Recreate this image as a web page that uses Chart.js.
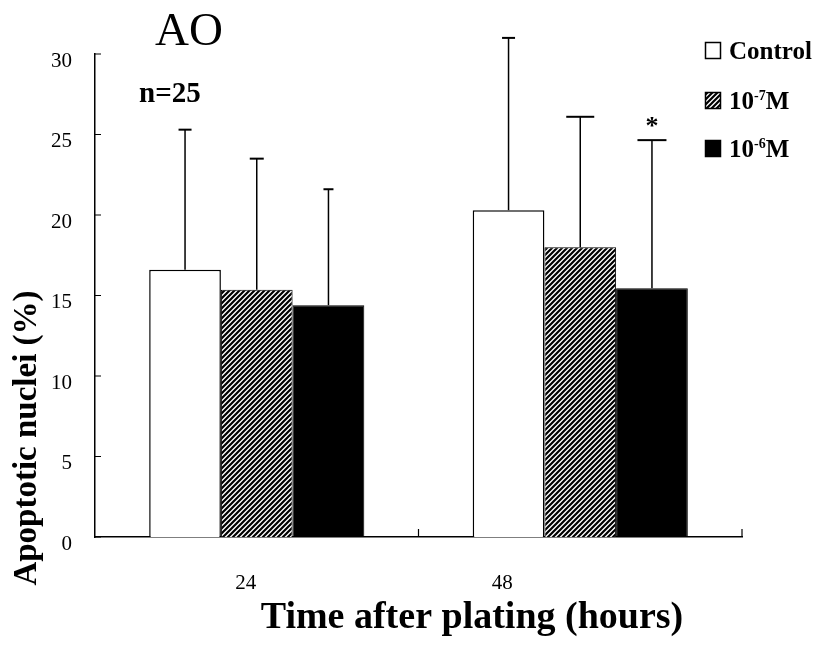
<!DOCTYPE html>
<html>
<head>
<meta charset="utf-8">
<script src="https://cdn.jsdelivr.net/npm/chart.js@4.4.1/dist/chart.umd.min.js"></script>
<style>
  html, body { margin: 0; padding: 0; background: #fff; }
  #chart { display: block; }
</style>
</head>
<body>
<canvas id="chart" width="819" height="645"></canvas>
<script>
// --- DATA ---
const categories = ['24', '48'];
const seriesLabels = ['Control', '10\u207B\u2077M', '10\u207B\u2076M'];
const legendParts = [['Control', '', ''], ['10', '-7', 'M'], ['10', '-6', 'M']];
const controlMeans = [16.6, 20.3];
const low7Means = [15.35, 18.0];
const high6Means = [14.4, 15.45];
const controlSD = [8.7, 10.7];
const low7SD = [8.15, 8.1];
const high6SD = [7.2, 9.2];
const yTicks = [0, 5, 10, 15, 20, 25, 30];
const starredBars = [[2, 1]]; // [series, category]
const panelTitle = 'AO';
const sampleNote = 'n=25';
const xTitle = 'Time after plating (hours)';
const yTitle = 'Apoptotic nuclei (%)';

// --- STYLE ---
const SERIF = '"Liberation Serif", "Times New Roman", serif';
const X_LABEL_SHIFT = [-11, -78];
const CAP_WIDTHS = [[13, 14, 10], [13, 28, 29]];

function makeHatch() {
  const size = 5;
  const c = document.createElement('canvas');
  c.width = size; c.height = size;
  const g = c.getContext('2d');
  g.fillStyle = '#fff';
  g.fillRect(0, 0, size, size);
  g.strokeStyle = '#000';
  g.lineWidth = 2.2;
  g.beginPath();
  g.moveTo(-1, size + 1); g.lineTo(size + 1, -1);
  g.moveTo(-1, 1); g.lineTo(1, -1);
  g.moveTo(size - 1, size + 1); g.lineTo(size + 1, size - 1);
  g.stroke();
  return g.createPattern(c, 'repeat');
}

const ctx = document.getElementById('chart').getContext('2d');
const hatch = makeHatch();
const fills = ['#fff', hatch, '#000'];

const decor = {
  id: 'decor',
  afterDatasetsDraw(chart) {
    const { ctx, chartArea: area, scales: { x, y } } = chart;
    ctx.save();
    ctx.strokeStyle = '#000';
    ctx.fillStyle = '#000';

    // error bars (upper only)
    chart.data.datasets.forEach((ds, i) => {
      chart.getDatasetMeta(i).data.forEach((bar, j) => {
        const top = y.getPixelForValue(ds.data[j] + ds.sd[j]);
        const w = CAP_WIDTHS[j][i];
        ctx.lineWidth = 1.5;
        ctx.beginPath();
        ctx.moveTo(bar.x, bar.y);
        ctx.lineTo(bar.x, top);
        ctx.stroke();
        ctx.lineWidth = 2;
        ctx.beginPath();
        ctx.moveTo(bar.x - w / 2, top);
        ctx.lineTo(bar.x + w / 2, top);
        ctx.stroke();
      });
    });

    // significance star
    ctx.font = 'bold 26px ' + SERIF;
    ctx.textAlign = 'center';
    ctx.textBaseline = 'alphabetic';
    starredBars.forEach(([s, c]) => {
      const ds = chart.data.datasets[s];
      const bar = chart.getDatasetMeta(s).data[c];
      const top = y.getPixelForValue(ds.data[c] + ds.sd[c]);
      ctx.fillText('*', bar.x, top - 6);
    });

    // inward ticks on y axis
    ctx.lineWidth = 1.2;
    ctx.beginPath();
    yTicks.forEach(v => {
      const py = y.getPixelForValue(v);
      ctx.moveTo(area.left, py);
      ctx.lineTo(area.left + 6, py);
    });
    // category dividers on x axis
    for (let i = 0; i < categories.length; i++) {
      const px = i < categories.length - 1
        ? (x.getPixelForValue(i) + x.getPixelForValue(i + 1)) / 2
        : area.right;
      ctx.moveTo(px, area.bottom);
      ctx.lineTo(px, area.bottom - 8);
    }
    ctx.stroke();

    // x tick labels
    ctx.font = '21px ' + SERIF;
    ctx.textBaseline = 'middle';
    categories.forEach((c, i) => {
      ctx.fillText(c, x.getPixelForValue(i) + X_LABEL_SHIFT[i], area.bottom + 46);
    });

    // axis titles
    ctx.font = 'bold 38px ' + SERIF;
    ctx.textBaseline = 'alphabetic';
    ctx.fillText(xTitle, 472, 628);
    ctx.save();
    ctx.translate(36, 438);
    ctx.rotate(-Math.PI / 2);
    ctx.font = 'bold 33px ' + SERIF;
    ctx.fillText(yTitle, 0, 0);
    ctx.restore();

    // panel title and note
    ctx.textAlign = 'left';
    ctx.font = '47px ' + SERIF;
    ctx.fillText(panelTitle, 155, 45);
    ctx.font = 'bold 29px ' + SERIF;
    ctx.fillText(sampleNote, 139, 102);

    // legend
    const rows = [59, 109, 157];
    legendParts.forEach((parts, i) => {
      const base = rows[i];
      ctx.fillStyle = fills[i];
      ctx.fillRect(705, base - 17, 16, 17);
      ctx.lineWidth = 1.5;
      ctx.strokeRect(705.5, base - 16.5, 15, 16);
      ctx.fillStyle = '#000';
      let tx = 729;
      ctx.font = 'bold 25px ' + SERIF;
      ctx.fillText(parts[0], tx, base);
      tx += ctx.measureText(parts[0]).width;
      if (parts[1]) {
        ctx.font = 'bold 14px ' + SERIF;
        ctx.fillText(parts[1], tx, base - 9);
        tx += ctx.measureText(parts[1]).width;
        ctx.font = 'bold 25px ' + SERIF;
        ctx.fillText(parts[2], tx, base);
      }
    });
    ctx.restore();
  }
};

new Chart(ctx, {
  type: 'bar',
  data: {
    labels: categories,
    datasets: [
      { label: seriesLabels[0], data: controlMeans, sd: controlSD, backgroundColor: fills[0], borderColor: '#000', borderWidth: 1.5 },
      { label: seriesLabels[1], data: low7Means, sd: low7SD, backgroundColor: fills[1], borderColor: '#000', borderWidth: 1 },
      { label: seriesLabels[2], data: high6Means, sd: high6SD, backgroundColor: fills[2], borderColor: '#000', borderWidth: 1 }
    ]
  },
  options: {
    responsive: false,
    animation: false,
    layout: { padding: { left: 0, right: 77, top: 54, bottom: 0 } },
    plugins: {
      legend: { display: false },
      tooltip: { enabled: false }
    },
    datasets: {
      bar: { categoryPercentage: 0.665, barPercentage: 1, borderSkipped: 'start' }
    },
    scales: {
      x: {
        grid: { display: false },
        border: { display: true, color: '#000', width: 1.5 },
        ticks: { display: false },
        afterFit: (scale) => { scale.height = 108; }
      },
      y: {
        min: 0,
        max: 30,
        grid: { display: false, drawTicks: false },
        border: { display: true, color: '#000', width: 1.5 },
        ticks: {
          stepSize: 5,
          padding: 23,
          labelOffset: 7,
          color: '#000',
          font: { family: SERIF, size: 21 }
        },
        afterFit: (scale) => { scale.width = 95; }
      }
    }
  },
  plugins: [decor]
});
</script>
</body>
</html>
